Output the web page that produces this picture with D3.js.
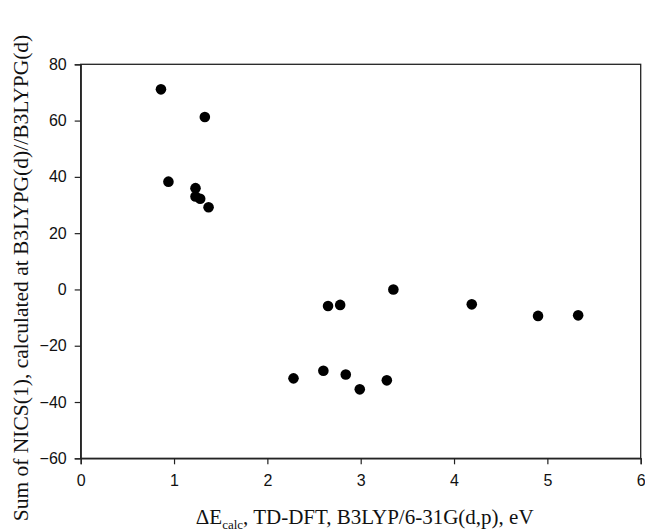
<!DOCTYPE html>
<html>
<head>
<meta charset="utf-8">
<script src="https://cdn.jsdelivr.net/npm/d3@7"></script>
<style>
  body { margin: 0; background: #fff; }
  svg { display: block; }
</style>
</head>
<body>
<svg id="chart" width="645" height="531"></svg>
<script>
// energies (eV) and summed NICS(1) values
let energy = [0.86, 1.33, 0.94, 1.23, 1.23, 1.28, 1.37,
              2.28, 2.60, 2.84, 2.99, 3.28,
              2.65, 2.78, 3.35, 4.19, 4.90, 5.33];
let nics = [71.1, 61.3, 38.3, 36.0, 33.0, 32.2, 29.2,
            -31.6, -28.9, -30.2, -35.5, -32.3,
            -5.9, -5.5, 0.0, -5.3, -9.4, -9.2];
let xTicks = [0, 1, 2, 3, 4, 5, 6];
let yTicks = [-60, -40, -20, 0, 20, 40, 60, 80];

var margin = {left: 80.7, right: 4.3, top: 64.3, bottom: 72.7};
var W = 645, H = 531;
var svg = d3.select('#chart');

var x = d3.scaleLinear().domain([0, 6]).range([margin.left, W - margin.right]);
var y = d3.scaleLinear().domain([-60, 80]).range([H - margin.bottom, margin.top]);

// box
svg.append('rect')
    .attr('x', x(0)).attr('y', y(80))
    .attr('width', x(6) - x(0)).attr('height', y(-60) - y(80))
    .attr('fill', 'none').attr('stroke', '#222').attr('stroke-width', 1.3);

var xAxis = svg.append('g')
    .attr('transform', 'translate(0,' + y(-60) + ')')
    .call(d3.axisBottom(x).tickValues(xTicks).tickSize(6).tickPadding(10).tickFormat(d3.format('d')));
var yAxis = svg.append('g')
    .attr('transform', 'translate(' + x(0) + ',0)')
    .call(d3.axisLeft(y).tickValues(yTicks).tickSize(6).tickPadding(8).tickFormat(d3.format('d')));

[xAxis, yAxis].forEach(function(a) {
    a.select('.domain').attr('stroke', '#222').attr('stroke-width', 1.3);
    a.selectAll('.tick line').attr('stroke', '#222').attr('stroke-width', 1.2);
    a.selectAll('.tick text')
        .attr('font-family', 'Liberation Sans, Arial, sans-serif')
        .attr('font-size', '16px')
        .attr('fill', '#111');
});

svg.append('g').selectAll('circle')
    .data(energy)
    .enter()
    .append('circle')
    .attr('cx', function(d) { return x(d); })
    .attr('cy', function(d, i) { return y(nics[i]); })
    .attr('r', 5.3)
    .attr('fill', '#000');

// axis titles
var xt = svg.append('text')
    .attr('x', (x(0) + x(6)) / 2 + 4)
    .attr('y', 524)
    .attr('text-anchor', 'middle')
    .attr('font-family', 'Liberation Serif, Times New Roman, serif')
    .attr('font-size', '21px')
    .attr('fill', '#111');
xt.append('tspan').text('\u0394E');
xt.append('tspan').attr('font-size', '13px').attr('dy', 5).text('calc');
xt.append('tspan').attr('dy', -5).text(', TD-DFT, B3LYP/6-31G(d,p), eV');

svg.append('text')
    .attr('transform', 'translate(28,' + 278 + ') rotate(-90)')
    .attr('text-anchor', 'middle')
    .attr('font-family', 'Liberation Serif, Times New Roman, serif')
    .attr('font-size', '21.5px')
    .attr('fill', '#111')
    .text('Sum of NICS(1), calculated at B3LYPG(d)//B3LYPG(d)');
</script>
</body>
</html>
